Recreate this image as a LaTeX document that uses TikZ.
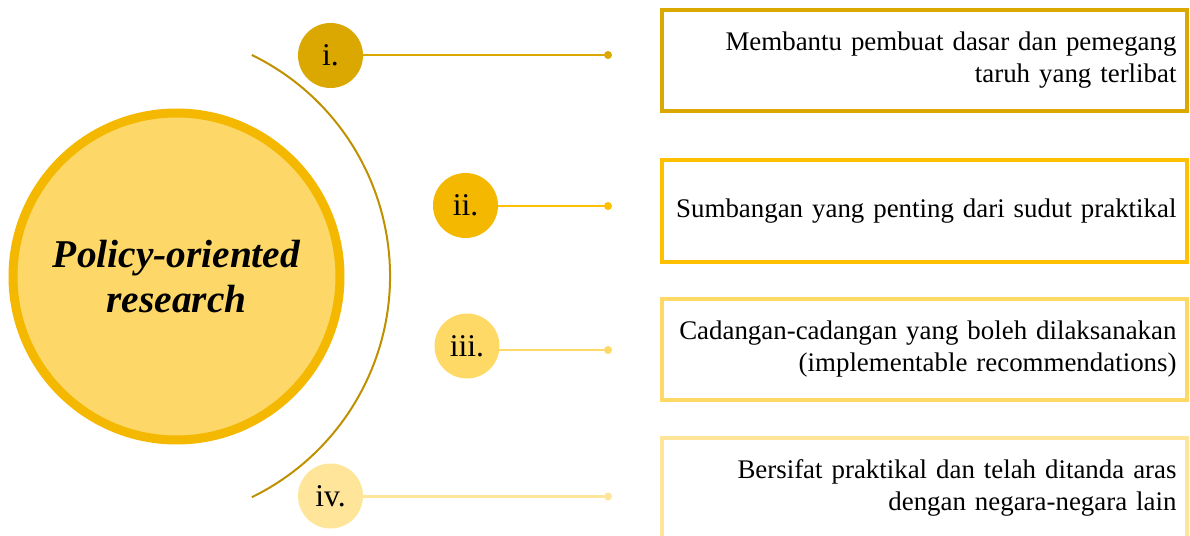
\documentclass[tikz,border=0pt]{standalone}
\usepackage{fontspec}
\setmainfont{Liberation Serif}
\usetikzlibrary{positioning,backgrounds}
\definecolor{golddark}{HTML}{DAA800}
\definecolor{gold}{HTML}{F4B800}
\definecolor{goldbright}{HTML}{FFC000}
\definecolor{goldlight}{HTML}{FFD966}
\definecolor{goldpale}{HTML}{FFE599}
\definecolor{fillcore}{HTML}{FDD868}
\definecolor{arcline}{HTML}{BF9000}

\begin{document}
\begin{tikzpicture}[
  core/.style={circle, minimum size=6.54cm, fill=fillcore, draw=gold,
               line width=0.18cm, align=center, inner sep=0pt,
               font=\fontsize{22.4}{25.5}\selectfont\bfseries\itshape},
  numdot/.style={circle, minimum size=1.3cm, inner sep=0pt,
                 font=\fontsize{18}{20}\selectfont},
  tipdot/.style={circle, minimum size=0.16cm, inner sep=0pt},
  link/.style={line width=0.05cm},
  item/.style={rectangle, minimum height=2.02cm, text width=10.1cm,
               inner xsep=0.2cm, align=right, line width=0.08cm, fill=white,
               font=\fontsize{15.3}{18.2}\selectfont}
]
\useasboundingbox (0,0) rectangle (23.8,10.7);

% main circle
\node[core] (core) at (3.53,5.17) {Policy-oriented\\research};

% outer arc
\draw[arcline, line width=0.04cm] (5.037,9.60) arc[start angle=64, end angle=-64, radius=4.92cm];

% numbered markers
\node[numdot, fill=golddark] (n1) at (6.61,9.59) {i.};
\node[numdot, fill=gold] (n2) at (9.31,6.59) {ii.};
\node[numdot, fill=goldlight] (n3) at (9.34,3.78) {iii.};
\node[numdot, fill=goldpale] (n4) at (6.61,0.78) {iv.};

\node[tipdot, fill=golddark] (d1) at (12.16,9.60) {};
\node[tipdot, fill=goldbright] (d2) at (12.16,6.58) {};
\node[tipdot, fill=goldlight] (d3) at (12.16,3.70) {};
\node[tipdot, fill=goldpale] (d4) at (12.16,0.77) {};

\begin{scope}[on background layer]
  \draw[link, golddark] (d1) -- (d1 -| n1.center);
  \draw[link, goldbright] (d2) -- (d2 -| n2.center);
  \draw[link, goldlight] (d3) -- (d3 -| n3.center);
  \draw[link, goldpale] (d4) -- (d4 -| n4.center);
\end{scope}

% text boxes
\node[item, draw=golddark] (b1) at (18.48,9.49)
  {Membantu pembuat dasar dan pemegang\\taruh yang terlibat};
\node[item, draw=goldbright] (b2) at (18.48,6.48)
  {Sumbangan yang penting dari sudut praktikal};
\node[item, draw=goldlight] (b3) at (18.48,3.72)
  {Cadangan-cadangan yang boleh dilaksanakan\\(implementable recommendations)};
\node[item, draw=goldpale] (b4) at (18.48,0.94)
  {Bersifat praktikal dan telah ditanda aras\\dengan negara-negara lain};

\end{tikzpicture}
\end{document}
